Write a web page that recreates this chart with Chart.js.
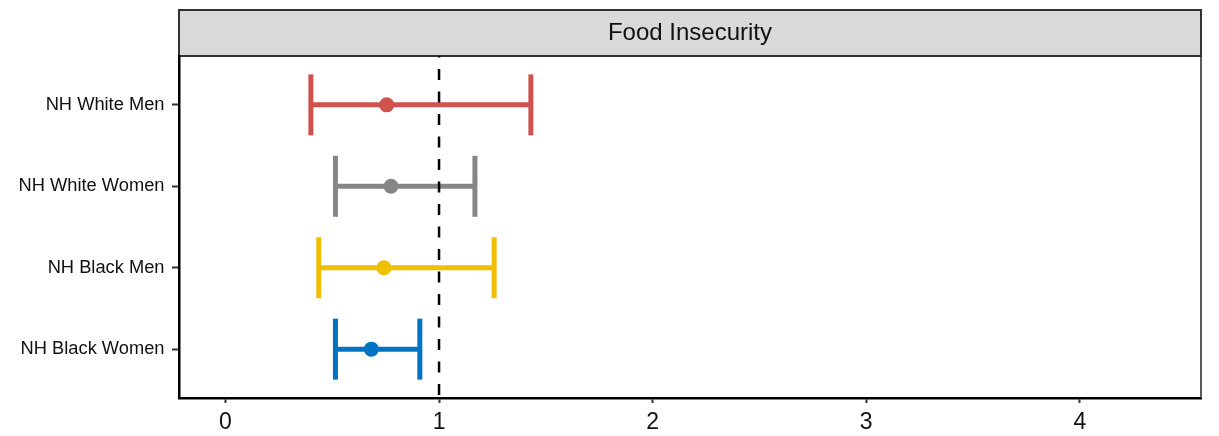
<!DOCTYPE html>
<html>
<head>
<meta charset="utf-8">
<script src="https://cdn.jsdelivr.net/npm/chart.js@4"></script>
<style>
  html, body { margin: 0; padding: 0; background: #fff; overflow: hidden; }
  canvas { display: block; }
</style>
</head>
<body>
<canvas id="chart" width="1219" height="436"></canvas>
<script>
const panelTitle = 'Food Insecurity';
const groups = ['NH White Men', 'NH White Women', 'NH Black Men', 'NH Black Women'];
const estimates = [0.755, 0.775, 0.742, 0.683];
const lower = [0.40, 0.515, 0.437, 0.515];
const upper = [1.43, 1.168, 1.258, 0.91];
const colors = ['#CD534C', '#868686', '#EFC000', '#0073C2'];
const xTicks = [0, 1, 2, 3, 4];
const refValue = 1;

const font = "'Liberation Sans', Arial, sans-serif";

// rows go top to bottom, so the first group gets the highest position
const rowPos = groups.map((g, i) => groups.length - i);

const datasets = [];

datasets.push({
    data: [{ x: refValue, y: 0.4 }, { x: refValue, y: 4.6 }],
    showLine: true,
    borderColor: '#000',
    borderWidth: 2.5,
    borderDash: [11, 11.5],
    borderDashOffset: 19.5,
    pointRadius: 0,
    order: 0
});

datasets.push({
    data: estimates.map((v, i) => ({ x: v, y: rowPos[i] })),
    pointRadius: 7.5,
    pointBorderWidth: 0,
    pointBackgroundColor: colors,
    order: 1
});

groups.forEach((g, i) => {
    datasets.push({
        data: [{ x: lower[i], y: rowPos[i] }, { x: upper[i], y: rowPos[i] }],
        showLine: true,
        borderColor: colors[i],
        borderWidth: 5,
        pointStyle: 'line',
        pointRotation: 90,
        pointRadius: 30.5,
        pointBorderWidth: 5,
        pointBorderColor: colors[i],
        order: 2
    });
});

const stripPlugin = {
    id: 'strip',
    beforeDraw(chart) {
        const { ctx, chartArea } = chart;
        ctx.save();
        ctx.fillStyle = '#D9D9D9';
        ctx.fillRect(chartArea.left, 10, chartArea.right - chartArea.left, chartArea.top - 10);
        ctx.strokeStyle = '#333';
        ctx.lineWidth = 2;
        ctx.strokeRect(chartArea.left, 10, chartArea.right - chartArea.left, chartArea.top - 10);
        ctx.restore();
    },
    afterDraw(chart) {
        const { ctx, chartArea } = chart;
        ctx.save();
        ctx.strokeStyle = '#333';
        ctx.lineWidth = 1.6;
        ctx.beginPath();
        ctx.moveTo(chartArea.right, chartArea.top);
        ctx.lineTo(chartArea.right, chartArea.bottom);
        ctx.stroke();
        ctx.restore();
    }
};

new Chart(document.getElementById('chart'), {
    type: 'scatter',
    data: { datasets: datasets },
    plugins: [stripPlugin],
    options: {
        responsive: false,
        animation: false,
        layout: { autoPadding: false, padding: { top: 10, right: 18, left: 0, bottom: 0 } },
        plugins: {
            legend: { display: false },
            tooltip: { enabled: false },
            title: {
                display: true,
                text: panelTitle,
                fullSize: false,
                color: '#111',
                font: { family: font, size: 24, weight: 'normal' },
                padding: { top: 9, bottom: 8.2 }
            }
        },
        scales: {
            x: {
                type: 'linear',
                min: -0.2175,
                max: 4.5675,
                afterBuildTicks: scale => { scale.ticks = xTicks.map(v => ({ value: v })); },
                afterFit: scale => { scale.height = 38; },
                grid: { drawOnChartArea: false, drawTicks: true, tickLength: 5, tickColor: '#333', tickWidth: 2 },
                border: { display: true, color: '#000', width: 2.5 },
                ticks: {
                    color: '#111',
                    padding: 6,
                    font: { family: font, size: 23 },
                    callback: v => v
                }
            },
            y: {
                type: 'linear',
                min: 0.4,
                max: 4.6,
                afterBuildTicks: scale => { scale.ticks = rowPos.map(v => ({ value: v })); },
                afterFit: scale => { scale.width = 179; },
                grid: { drawOnChartArea: false, drawTicks: true, tickLength: 7, tickColor: '#333', tickWidth: 2 },
                border: { display: true, color: '#000', width: 2.5 },
                ticks: {
                    color: '#111',
                    padding: 7.5,
                    font: { family: font, size: 18.3 },
                    callback: v => groups[rowPos.indexOf(v)]
                }
            }
        }
    }
});
</script>
</body>
</html>
